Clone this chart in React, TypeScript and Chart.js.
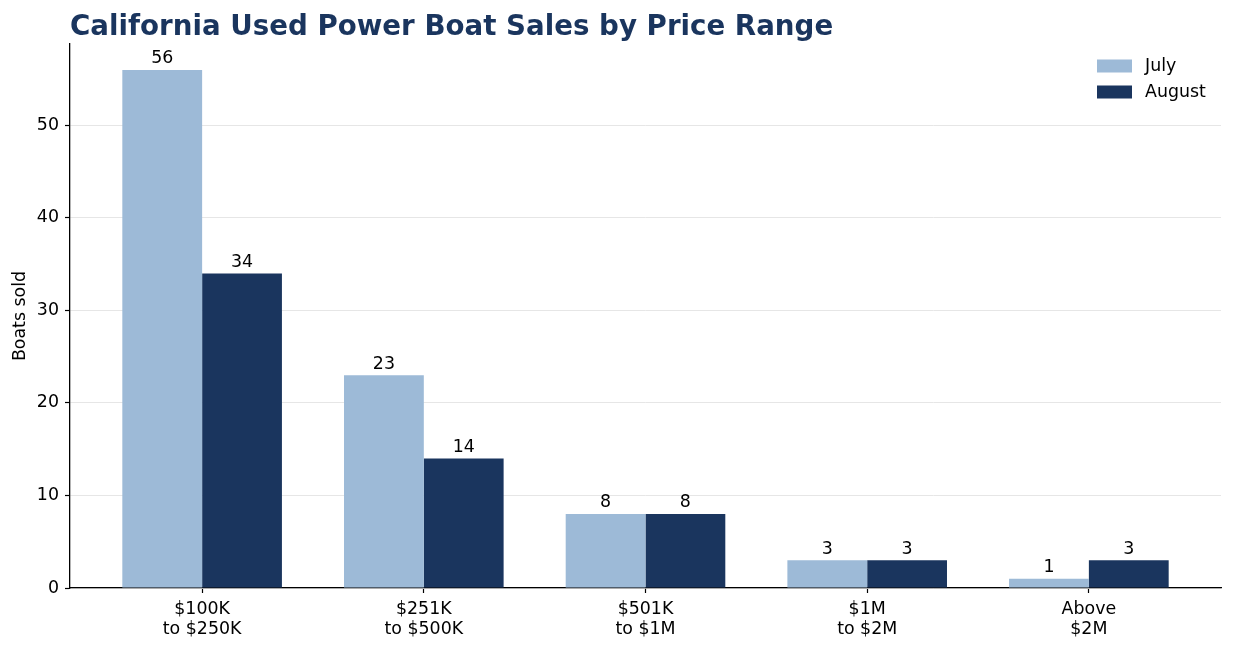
import React, { useEffect, useRef } from "react";
import { Chart, registerables } from "chart.js";

Chart.register(...registerables);

const chartTitle = "California Used Power Boat Sales by Price Range";
const categories: string[][] = [
  ["$100K", "to $250K"],
  ["$251K", "to $500K"],
  ["$501K", "to $1M"],
  ["$1M", "to $2M"],
  ["Above", "$2M"],
];
const julySales = [56, 23, 8, 3, 1];
const augustSales = [34, 14, 8, 3, 3];
const seriesNames = ["July", "August"];
const yTicks = [0, 10, 20, 30, 40, 50];
const yAxisLabel = "Boats sold";

const JULY_COLOR = "#9dbad7";
const AUG_COLOR = "#1a355e";
const TITLE_COLOR = "#1a355e";
const FONT = "'DejaVu Sans', sans-serif";
const FS = 17.4;

export default function App() {
  const ref = useRef<HTMLCanvasElement | null>(null);

  useEffect(() => {
    if (!ref.current) return;
    const xMax = categories.length - 1;
    const barHalf = 0.36;
    const xPad = (xMax + 2 * barHalf) * 0.05 + barHalf;
    const yMax = Math.max(...julySales, ...augustSales) * 1.05;

    const titlePlugin = {
      id: "customTitle",
      afterDraw(chart: any) {
        const ctx = chart.ctx;
        ctx.save();
        ctx.font = `bold 27.7px ${FONT}`;
        ctx.fillStyle = TITLE_COLOR;
        ctx.textAlign = "left";
        ctx.textBaseline = "alphabetic";
        ctx.fillText(chartTitle, chart.chartArea.left, 34.5);
        ctx.restore();
      },
    };

    const valueLabelPlugin = {
      id: "valueLabels",
      afterDatasetsDraw(chart: any) {
        const ctx = chart.ctx;
        ctx.save();
        ctx.font = `${FS}px ${FONT}`;
        ctx.fillStyle = "#000";
        ctx.textAlign = "center";
        ctx.textBaseline = "alphabetic";
        chart.data.datasets.forEach((ds: any, di: number) => {
          const meta = chart.getDatasetMeta(di);
          meta.data.forEach((el: any, i: number) => {
            ctx.fillText(String(ds.data[i].y), el.x, el.y - 6.5);
          });
        });
        ctx.restore();
      },
    };

    const legendPlugin = {
      id: "customLegend",
      afterDraw(chart: any) {
        const ctx = chart.ctx;
        const area = chart.chartArea;
        ctx.save();
        ctx.font = `${FS}px ${FONT}`;
        ctx.textAlign = "left";
        ctx.textBaseline = "middle";
        chart.data.datasets.forEach((ds: any, i: number) => {
          const y = area.top + 22 + i * 26;
          const bx = area.right - 124;
          ctx.fillStyle = ds.backgroundColor;
          ctx.fillRect(bx, y - 6.5, 35, 13);
          ctx.fillStyle = "#000";
          ctx.fillText(ds.label, bx + 48, y + 0.5);
        });
        ctx.restore();
      },
    };

    const chart = new Chart(ref.current, {
      type: "bar",
      data: {
        datasets: [
          {
            label: seriesNames[0],
            data: julySales.map((v, i) => ({ x: i, y: v })),
            backgroundColor: JULY_COLOR,
            borderWidth: 0,
          },
          {
            label: seriesNames[1],
            data: augustSales.map((v, i) => ({ x: i, y: v })),
            backgroundColor: AUG_COLOR,
            borderWidth: 0,
          },
        ],
      },
      options: {
        animation: false,
        responsive: false,
        maintainAspectRatio: false,
        devicePixelRatio: 1,
        layout: { padding: { top: 44, right: 12, bottom: 0, left: 0 } },
        datasets: { bar: { categoryPercentage: 0.72, barPercentage: 1 } },
        plugins: {
          legend: { display: false },
          title: { display: false },
          tooltip: { enabled: false },
        },
        scales: {
          x: {
            type: "linear",
            offset: false,
            min: -xPad,
            max: xMax + xPad,
            afterBuildTicks(scale: any) {
              scale.ticks = categories.map((_, i) => ({ value: i }));
            },
            afterFit(scale: any) {
              scale.height = 60;
            },
            ticks: {
              autoSkip: false,
              maxRotation: 0,
              padding: 7,
              color: "#000",
              font: { family: FONT, size: FS, lineHeight: 1.12 },
              callback: (v: any) => categories[Math.round(Number(v))] ?? "",
            },
            grid: {
              offset: false,
              drawOnChartArea: false,
              drawTicks: true,
              tickLength: 5,
              tickColor: "#000",
              tickWidth: 1.2,
            },
            border: { color: "#000", width: 1.3 },
          },
          y: {
            min: 0,
            max: yMax,
            afterBuildTicks(scale: any) {
              scale.ticks = yTicks.map((v) => ({ value: v }));
            },
            afterFit(scale: any) {
              scale.width = 70;
            },
            ticks: {
              padding: 6,
              color: "#000",
              font: { family: FONT, size: FS },
            },
            grid: {
              color: "#e6e6e6",
              lineWidth: 1,
              drawTicks: true,
              tickLength: 5,
              tickColor: "#000",
              tickWidth: 1.2,
            },
            border: { color: "#000", width: 1.3 },
            title: {
              display: true,
              text: yAxisLabel,
              color: "#000",
              font: { family: FONT, size: FS },
              padding: { top: 10, bottom: 0 },
            },
          },
        },
      },
      plugins: [titlePlugin, valueLabelPlugin, legendPlugin],
    } as any);

    return () => chart.destroy();
  }, []);

  return (
    <div style={{ position: "fixed", left: 0, top: 0, width: 1233, height: 648, background: "#fff" }}>
      <canvas ref={ref} width={1233} height={648} style={{ width: 1233, height: 648, display: "block" }} />
    </div>
  );
}
